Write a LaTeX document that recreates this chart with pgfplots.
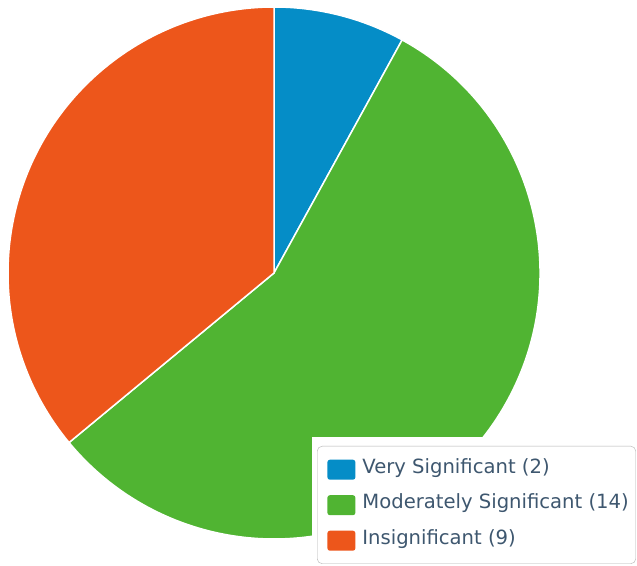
\documentclass[border=0pt]{standalone}
\usepackage{pgfplots}
\pgfplotsset{compat=1.18}
\usepackage{pgfplotstable}
\usepackage{fontspec}
\setmainfont{DejaVu Sans}

\definecolor{vsig}{HTML}{058DC7}
\definecolor{msig}{HTML}{50B432}
\definecolor{isig}{HTML}{ED561B}
\definecolor{legtext}{HTML}{3E576F}

% slice values
\pgfplotstableread{
value
2
14
9
}\piedata
\pgfplotstablegetelem{0}{value}\of\piedata \let\va\pgfplotsretval
\pgfplotstablegetelem{1}{value}\of\piedata \let\vb\pgfplotsretval
\pgfplotstablegetelem{2}{value}\of\piedata \let\vc\pgfplotsretval
\pgfmathsetmacro\total{\va+\vb+\vc}
\pgfmathsetmacro\aA{90}
\pgfmathsetmacro\aB{\aA-360*\va/\total}
\pgfmathsetmacro\aC{\aB-360*\vb/\total}
\pgfmathsetmacro\aD{\aC-360*\vc/\total}

\begin{document}
\begin{tikzpicture}
\begin{axis}[
hide axis,
scale only axis,
width=637pt, height=565pt,
xmin=0, xmax=637, ymin=0, ymax=565,
clip=false,
legend image code/.code={\path (0pt,-10pt); \fill[#1,draw=none,rounded corners=2.5pt] (5pt,-10.5pt) rectangle (33pt,9.5pt);},
legend cell align=left,
legend style={at={(axis cs:317,119)}, anchor=north west,
  draw=black!30, rounded corners=5pt, fill=white,
  font=\fontsize{19.6}{23}\selectfont, text=legtext,
  inner xsep=5pt, inner ysep=13pt, row sep=15pt,
  nodes={inner ysep=0pt, inner xsep=2pt, text height=14pt, text depth=6pt},
  /tikz/every odd column/.append style={column sep=5pt}},
]
\fill[vsig, draw=white, line width=1.5pt] (axis cs:274,292) -- ++(\aA:266pt) arc[start angle=\aA, end angle=\aB, radius=266pt] -- cycle;
\fill[msig, draw=white, line width=1.5pt] (axis cs:274,292) -- ++(\aB:266pt) arc[start angle=\aB, end angle=\aC, radius=266pt] -- cycle;
\fill[isig, draw=white, line width=1.5pt] (axis cs:274,292) -- ++(\aC:266pt) arc[start angle=\aC, end angle=\aD, radius=266pt] -- cycle;
% white area behind the legend
\fill[white] (axis cs:312,0) rectangle (axis cs:637,128);

\addlegendimage{fill=vsig}
\addlegendentry{Very Significant (2)}
\addlegendimage{fill=msig}
\addlegendentry{Moderately Significant (14)}
\addlegendimage{fill=isig}
\addlegendentry{Insignificant (9)}
\end{axis}
\pgfresetboundingbox
\path (current axis.south west) rectangle (current axis.north east);
\end{tikzpicture}
\end{document}
